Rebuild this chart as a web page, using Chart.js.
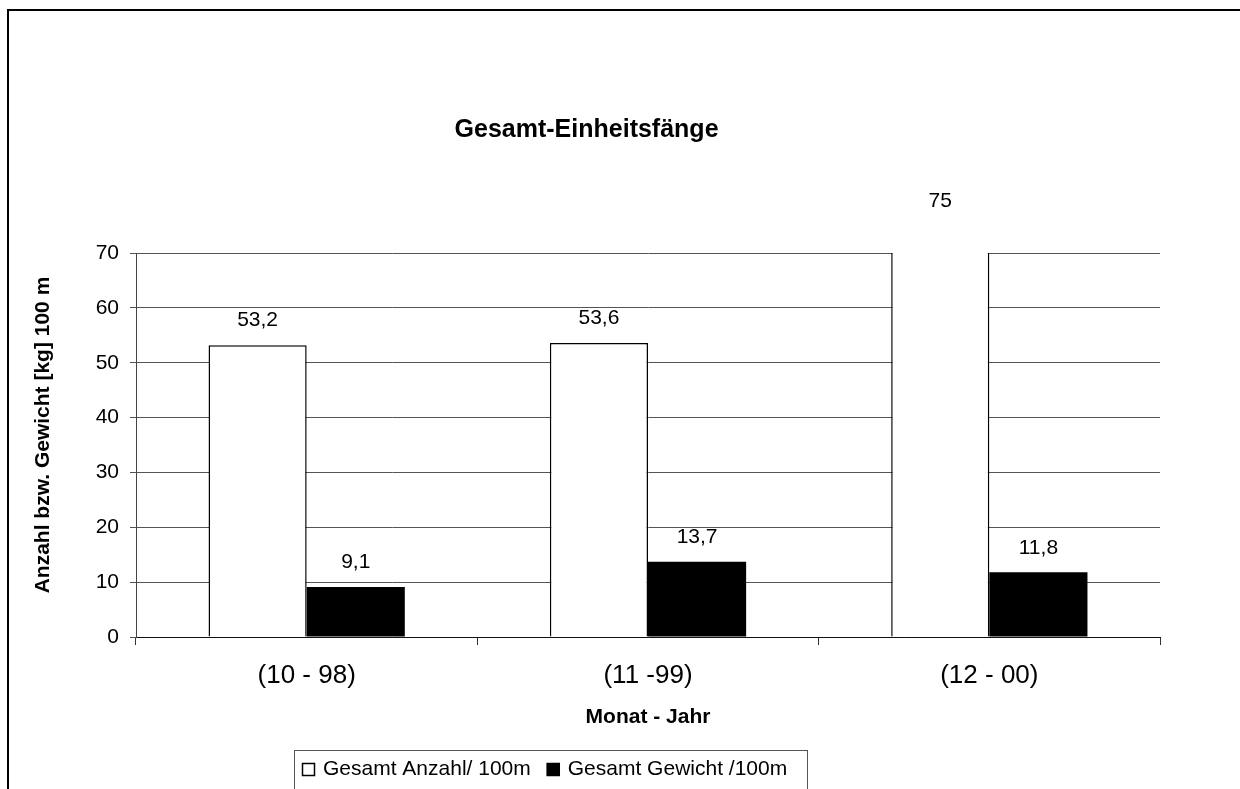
<!DOCTYPE html>
<html>
<head>
<meta charset="utf-8">
<script src="https://cdn.jsdelivr.net/npm/chart.js@4.4.1/dist/chart.umd.min.js"></script>
<style>
  html, body { margin: 0; padding: 0; background: #fff; overflow: hidden; }
  #wrap { position: relative; width: 1240px; height: 789px; overflow: hidden; }
  #frame { position: absolute; left: 7px; top: 9px; width: 1400px; height: 1000px; border: 2px solid #000; box-sizing: border-box; }
  canvas { position: absolute; left: 0; top: 0; }
</style>
</head>
<body>
<div id="wrap">
  <div id="frame"></div>
  <canvas id="c" width="1240" height="789"></canvas>
</div>
<script>
const chartTitle = 'Gesamt-Einheitsfänge';
const xAxisTitle = 'Monat - Jahr';
const yAxisTitle = 'Anzahl bzw. Gewicht [kg] 100 m';
const categories = ['(10 - 98)', '(11 -99)', '(12 - 00)'];
const seriesNames = ['Gesamt Anzahl/ 100m', 'Gesamt Gewicht /100m'];
const anzahl = [53.2, 53.6, 75];
const gewicht = [9.1, 13.7, 11.8];
const yMin = 0, yMax = 70, yStep = 10;

const FONT = "'Liberation Sans', Arial, sans-serif";
const fmt = v => String(v).replace('.', ',');

const decor = {
  id: 'decor',
  afterDatasetsDraw(chart) {
    const ctx = chart.ctx;
    const ys = chart.scales.y;
    ctx.save();
    ctx.fillStyle = '#000';
    ctx.font = '21px ' + FONT;
    ctx.textAlign = 'center';
    ctx.textBaseline = 'middle';
    chart.data.datasets.forEach((ds, di) => {
      const meta = chart.getDatasetMeta(di);
      meta.data.forEach((bar, i) => {
        const v = ds.data[i];
        const py = ys.getPixelForValue(v);
        ctx.fillText(fmt(v), bar.x, py - 24.5);
      });
    });
    ctx.restore();
  },
  afterDraw(chart) {
    const ctx = chart.ctx;
    const ca = chart.chartArea;
    ctx.save();
    ctx.fillStyle = '#000';
    ctx.font = 'bold 25px ' + FONT;
    ctx.textAlign = 'center';
    ctx.textBaseline = 'middle';
    ctx.fillText(chartTitle, ca.left + (ca.right - ca.left) * 0.44, 130);
    ctx.save();
    ctx.translate(43, (ca.top + ca.bottom) / 2 - 10);
    ctx.rotate(-Math.PI / 2);
    ctx.font = 'bold 21px ' + FONT;
    ctx.fillText(yAxisTitle, 0, 0);
    ctx.restore();
    const lx = 294, ly = 750;
    ctx.strokeStyle = '#555';
    ctx.lineWidth = 1;
    ctx.strokeRect(lx + 0.5, ly + 0.5, 513, 80);
    ctx.font = '21px ' + FONT;
    ctx.textAlign = 'left';
    ctx.textBaseline = 'middle';
    let x = lx + 8;
    const cy = 769.5;
    chart.data.datasets.forEach((ds) => {
      ctx.fillStyle = ds.backgroundColor;
      ctx.fillRect(x, cy - 6.5, 13, 13);
      ctx.strokeStyle = '#000';
      ctx.lineWidth = 1.5;
      ctx.strokeRect(x + 0.5, cy - 6, 12, 12);
      ctx.fillStyle = '#000';
      ctx.fillText(ds.label, x + 21, cy);
      x += 21 + ctx.measureText(ds.label).width + 16;
    });
    ctx.restore();
  }
};

new Chart(document.getElementById('c'), {
  type: 'bar',
  data: {
    labels: categories,
    datasets: [
      { label: seriesNames[0], data: anzahl, backgroundColor: '#ffffff', borderColor: '#000000',
        borderWidth: 1.5, borderSkipped: 'start', clip: 0 },
      { label: seriesNames[1], data: gewicht, backgroundColor: '#000000', borderColor: '#000000',
        borderWidth: 0, clip: 0 }
    ]
  },
  options: {
    responsive: false,
    animation: false,
    devicePixelRatio: 1,
    layout: { padding: { left: 0, right: 80, top: 253, bottom: 0 } },
    datasets: { bar: { barPercentage: 1.0, categoryPercentage: 0.575 } },
    plugins: { legend: { display: false }, title: { display: false }, tooltip: { enabled: false } },
    scales: {
      x: {
        afterFit: s => { s.height = 152; },
        grid: { offset: true, drawOnChartArea: false, drawTicks: true, tickLength: 8, color: '#333' },
        border: { display: true, color: '#111', width: 1 },
        ticks: { color: '#000', font: { family: FONT, size: 26 }, padding: 15, maxRotation: 0 },
        title: { display: true, text: xAxisTitle, color: '#000', font: { family: FONT, size: 21, weight: 'bold' },
                 padding: { top: 0, bottom: 59 } }
      },
      y: {
        min: yMin, max: yMax,
        afterFit: s => { s.width = 136; },
        grid: { color: '#555', tickLength: 6, drawTicks: true },
        border: { display: true, color: '#444', width: 1 },
        ticks: { stepSize: yStep, color: '#000', font: { family: FONT, size: 21 }, padding: 11 }
      }
    }
  },
  plugins: [decor]
});
</script>
</body>
</html>
